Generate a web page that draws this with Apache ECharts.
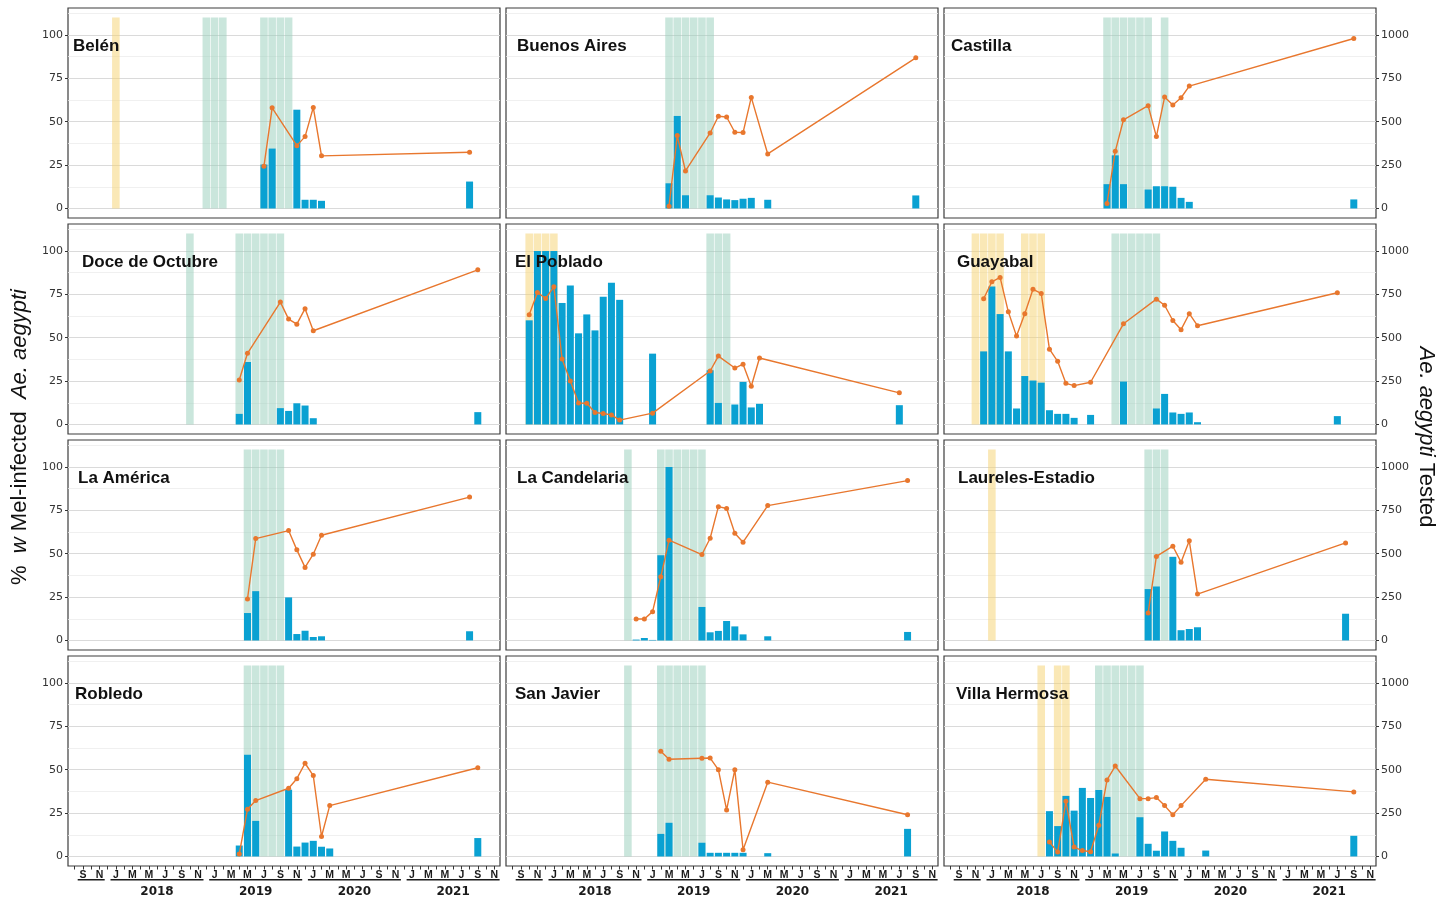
<!DOCTYPE html>
<html>
<head>
<meta charset="utf-8">
<script src="https://cdn.jsdelivr.net/npm/echarts@6/dist/echarts.min.js"></script>
<style>html,body{margin:0;background:#fff}#chart{width:1450px;height:899px}</style>
</head>
<body>
<div id="chart"></div>
<script>
// tick labels
const monthLetters = ['J','F','M','A','M','J','J','A','S','O','N','D'];
const yearLabels = {9: '', 17: '2018', 29: '2019', 41: '2020', 53: '2021'};
const pctTicks = [0, 25, 50, 75, 100];
const pctMinor = [12.5, 37.5, 62.5, 87.5, 112.5];
const testedTicks = [0, 250, 500, 750, 1000];

// Belén
const belenMonths = ['2019-07','2019-08','2019-11','2019-12','2020-01','2020-02','2021-08'];
const belenPct = [25.3, 34.5, 56.9, 5.0, 5.0, 4.4, 15.5];
const belenTested = [243, 580, 362, 414, 582, 303, 324];
const belenYellow = ['2018-01'];
const belenGreen = ['2018-12','2019-01','2019-02','2019-07','2019-08','2019-09','2019-10'];
// Buenos Aires
const baMonths = ['2019-03','2019-04','2019-05','2019-08','2019-09','2019-10','2019-11','2019-12','2020-01','2020-03','2021-09'];
const baPct = [14.5, 53.3, 7.6, 7.6, 6.3, 5.2, 4.8, 5.6, 6.1, 5.0, 7.5];
const baTested = [13, 420, 216, 435, 531, 527, 439, 437, 640, 314, 868];
const baYellow = [];
const baGreen = ['2019-03','2019-04','2019-05','2019-06','2019-07','2019-08'];
// Castilla
const casMonths = ['2019-03','2019-04','2019-05','2019-08','2019-09','2019-10','2019-11','2019-12','2020-01','2021-09'];
const casPct = [14, 30.6, 14, 10.9, 12.8, 12.8, 12.5, 6.1, 3.8, 5.2];
const casTested = [29, 329, 511, 592, 414, 642, 596, 638, 705, 979];
const casYellow = [];
const casGreen = ['2019-03','2019-04','2019-05','2019-06','2019-07','2019-08','2019-10'];
// Doce de Octubre
const doceMonths = ['2019-04','2019-05','2019-09','2019-10','2019-11','2019-12','2020-01','2021-09'];
const docePct = [6.1, 36, 9.4, 7.8, 12.2, 10.9, 3.6, 7.1];
const doceTested = [256, 410, 705, 607, 578, 667, 540, 891];
const doceYellow = [];
const doceGreen = ['2018-10','2019-04','2019-05','2019-06','2019-07','2019-08','2019-09'];
// El Poblado
const pobMonths = ['2017-10','2017-11','2017-12','2018-01','2018-02','2018-03','2018-04','2018-05','2018-06','2018-07','2018-08','2018-09','2019-01','2019-08','2019-09','2019-11','2019-12','2020-01','2020-02','2021-07'];
const pobPct = [60, 100, 100, 100, 70, 80, 52.5, 63.4, 54.2, 73.6, 81.6, 71.8, 40.8, 31.2, 12.4, 11.5, 24.5, 9.8, 11.9, 11.1];
const pobTested = [632, 760, 726, 793, 377, 251, 124, 122, 69, 63, 55, 25, 65, 308, 394, 325, 347, 220, 383, 182];
const pobYellow = ['2017-10','2017-11','2017-12','2018-01'];
const pobGreen = ['2019-08','2019-09','2019-10'];
// Guayabal
const guaMonths = ['2017-12','2018-01','2018-02','2018-03','2018-04','2018-05','2018-06','2018-07','2018-08','2018-09','2018-10','2018-11','2019-01','2019-05','2019-09','2019-10','2019-11','2019-12','2020-01','2020-02','2021-07'];
const guaPct = [42.1, 79.5, 63.6, 42.1, 9.2, 27.9, 25.3, 24.1, 8.2, 6.1, 6.1, 3.8, 5.5, 24.7, 9.2, 17.6, 6.9, 6.1, 6.9, 1.3, 4.8];
const guaTested = [724, 822, 847, 649, 509, 638, 779, 755, 434, 364, 237, 224, 243, 580, 722, 687, 599, 546, 638, 569, 759];
const guaYellow = ['2017-11','2017-12','2018-01','2018-02','2018-05','2018-06','2018-07'];
const guaGreen = ['2019-04','2019-05','2019-06','2019-07','2019-08','2019-09'];
// La América
const ameMonths = ['2019-05','2019-06','2019-10','2019-11','2019-12','2020-01','2020-02','2021-08'];
const amePct = [15.8, 28.4, 24.8, 3.7, 5.6, 2.0, 2.4, 5.3];
const ameTested = [239, 587, 633, 522, 421, 497, 606, 826];
const ameYellow = [];
const ameGreen = ['2019-05','2019-06','2019-07','2019-08','2019-09'];
// La Candelaria
const canMonths = ['2018-11','2018-12','2019-01','2019-02','2019-03','2019-07','2019-08','2019-09','2019-10','2019-11','2019-12','2020-03','2021-08'];
const canPct = [0.5, 1.4, 0.3, 49.1, 100, 19.3, 4.7, 5.5, 11.2, 8.1, 3.5, 2.4, 4.9];
const canTested = [124, 124, 166, 367, 578, 495, 589, 771, 760, 618, 566, 777, 921];
const canYellow = [];
const canGreen = ['2018-10','2019-02','2019-03','2019-04','2019-05','2019-06','2019-07'];
// Laureles-Estadio
const lauMonths = ['2019-08','2019-09','2019-11','2019-12','2020-01','2020-02','2021-08'];
const lauPct = [29.6, 31.1, 48.2, 5.9, 6.6, 7.6, 15.4];
const lauTested = [158, 484, 543, 451, 574, 267, 562];
const lauYellow = ['2018-01'];
const lauGreen = ['2019-08','2019-09','2019-10'];
// Robledo
const robMonths = ['2019-04','2019-05','2019-06','2019-10','2019-11','2019-12','2020-01','2020-02','2020-03','2021-09'];
const robPct = [6.3, 58.6, 20.5, 38.5, 5.7, 8.0, 9.0, 5.6, 4.6, 10.6];
const robTested = [14, 272, 322, 393, 448, 537, 466, 115, 293, 511];
const robYellow = [];
const robGreen = ['2019-05','2019-06','2019-07','2019-08','2019-09'];
// San Javier
const sjMonths = ['2019-02','2019-03','2019-07','2019-08','2019-09','2019-10','2019-11','2019-12','2020-03','2021-08'];
const sjPct = [13.0, 19.4, 7.9, 2.1, 2.1, 2.1, 2.1, 2.1, 1.9, 15.9];
const sjTested = [606, 560, 566, 567, 500, 268, 500, 39, 428, 240];
const sjYellow = [];
const sjGreen = ['2018-10','2019-02','2019-03','2019-04','2019-05','2019-06','2019-07'];
// Villa Hermosa
const vhMonths = ['2018-08','2018-09','2018-10','2018-11','2018-12','2019-01','2019-02','2019-03','2019-04','2019-07','2019-08','2019-09','2019-10','2019-11','2019-12','2020-03','2021-09'];
const vhPct = [26.1, 17.5, 34.9, 26.4, 39.5, 33.7, 38.3, 34.3, 1.7, 22.6, 7.3, 3.3, 14.4, 9.0, 5.0, 3.4, 11.9];
const vhTested = [84, 25, 318, 54, 34, 27, 180, 441, 521, 333, 333, 339, 293, 240, 293, 445, 372];
const vhYellow = ['2018-07','2018-09','2018-10'];
const vhGreen = ['2019-02','2019-03','2019-04','2019-05','2019-06','2019-07'];

const panels = [
    {name: 'Belén', months: belenMonths, pct: belenPct, tested: belenTested, yellow: belenYellow, green: belenGreen},
    {name: 'Buenos Aires', months: baMonths, pct: baPct, tested: baTested, yellow: baYellow, green: baGreen},
    {name: 'Castilla', months: casMonths, pct: casPct, tested: casTested, yellow: casYellow, green: casGreen},
    {name: 'Doce de Octubre', months: doceMonths, pct: docePct, tested: doceTested, yellow: doceYellow, green: doceGreen},
    {name: 'El Poblado', months: pobMonths, pct: pobPct, tested: pobTested, yellow: pobYellow, green: pobGreen},
    {name: 'Guayabal', months: guaMonths, pct: guaPct, tested: guaTested, yellow: guaYellow, green: guaGreen},
    {name: 'La América', months: ameMonths, pct: amePct, tested: ameTested, yellow: ameYellow, green: ameGreen},
    {name: 'La Candelaria', months: canMonths, pct: canPct, tested: canTested, yellow: canYellow, green: canGreen},
    {name: 'Laureles-Estadio', months: lauMonths, pct: lauPct, tested: lauTested, yellow: lauYellow, green: lauGreen},
    {name: 'Robledo', months: robMonths, pct: robPct, tested: robTested, yellow: robYellow, green: robGreen},
    {name: 'San Javier', months: sjMonths, pct: sjPct, tested: sjTested, yellow: sjYellow, green: sjGreen},
    {name: 'Villa Hermosa', months: vhMonths, pct: vhPct, tested: vhTested, yellow: vhYellow, green: vhGreen}
];
// label offset inside each panel (px from panel left)
const labelDx = [5, 11, 7, 14, 9, 13, 10, 11, 14, 7, 9, 12];

// month index, Jan 2017 = 0
let mi = s => (+s.slice(0, 4) - 2017) * 12 + (+s.slice(5, 7) - 1);
let range = (a, b, s) => { let r = []; for (let v = a; v <= b; v += s) r.push(v); return r; };

const xMin = 6.18, xMax = 58.7;
const fontTick = '"DejaVu Sans"';

let shade = color => (params, api) => {
    let p0 = api.coord([api.value(0) - 0.46, api.value(1)]);
    let p1 = api.coord([api.value(0) + 0.46, 0]);
    return {type: 'rect', shape: {x: p0[0], y: p0[1], width: p1[0] - p0[0], height: p1[1] - p0[1]}, style: {fill: color}};
};

let grid = [], xAxis = [], yAxis = [], series = [], graphic = [];
panels.forEach((p, i) => {
    let r = Math.floor(i / 3), c = i % 3;
    let left = 68 + c * 438, top = 8 + r * 216;
    let bottomRow = r === 3;
    grid.push({left: left, top: top, width: 432, height: 210, show: true, backgroundColor: '#fff',
        borderColor: '#3c3c3c', borderWidth: 1.2, containLabel: false, outerBoundsMode: 'none'});

    xAxis.push({type: 'value', gridIndex: i, min: xMin, max: xMax, position: 'bottom',
        axisLine: {show: false, onZero: false}, splitLine: {show: false},
        axisTick: {show: bottomRow, customValues: range(7, 58, 1), length: 3.5, lineStyle: {color: '#333'}},
        axisLabel: {show: bottomRow, customValues: range(8, 58, 2), margin: 4,
            formatter: v => monthLetters[v % 12], fontFamily: '"Liberation Sans"', fontWeight: 'bold', fontSize: 10.5, color: '#1a1a1a'}});
    xAxis.push({type: 'value', gridIndex: i, min: xMin, max: xMax, position: 'bottom', show: bottomRow,
        axisLine: {show: false, onZero: false}, splitLine: {show: false}, axisTick: {show: false},
        axisLabel: {show: bottomRow, customValues: [9, 17, 29, 41, 53], margin: 13,
            formatter: v => yearLabels[v] ? '{u| }\n{y|' + yearLabels[v] + '}' : '{u0| }',
            rich: {
                u: {width: 93, height: 1.5, backgroundColor: '#1a1a1a'},
                u0: {width: 27, height: 1.5, backgroundColor: '#1a1a1a'},
                y: {fontFamily: fontTick, fontWeight: 'bold', fontSize: 12, lineHeight: 22, color: '#1a1a1a'}
            }}});

    yAxis.push({type: 'value', gridIndex: i, min: -5.5, max: 115.5, position: 'left',
        axisLine: {show: false, onZero: false},
        axisTick: {show: c === 0, customValues: pctTicks, length: 3, lineStyle: {color: '#333'}},
        axisLabel: {show: c === 0, customValues: pctTicks, margin: 5, fontFamily: fontTick, fontSize: 11, color: '#333'},
        splitLine: {show: true, lineStyle: {color: '#dadada', width: 1.1}}});
    yAxis.push({type: 'value', gridIndex: i, min: -55, max: 1155, position: 'right',
        axisLine: {show: false, onZero: false}, splitLine: {show: false},
        axisTick: {show: c === 2, customValues: testedTicks, length: 3, lineStyle: {color: '#333'}},
        axisLabel: {show: c === 2, customValues: testedTicks, margin: 5, formatter: v => String(v),
            fontFamily: fontTick, fontSize: 11, color: '#333'}});
    yAxis.push({type: 'value', gridIndex: i, min: -5.5, max: 115.5, position: 'left',
        axisLine: {show: false, onZero: false}, axisLabel: {show: false},
        axisTick: {show: false, customValues: pctMinor},
        splitLine: {show: true, lineStyle: {color: '#ececec', width: 0.8}}});

    series.push({type: 'custom', xAxisIndex: 2 * i, yAxisIndex: 3 * i, z: 1, silent: true,
        renderItem: shade('rgba(246, 210, 110, 0.5)'), data: p.yellow.map(m => [mi(m), 110])});
    series.push({type: 'custom', xAxisIndex: 2 * i, yAxisIndex: 3 * i, z: 1, silent: true,
        renderItem: shade('rgba(150, 205, 185, 0.5)'), data: p.green.map(m => [mi(m), 110])});
    series.push({type: 'bar', xAxisIndex: 2 * i, yAxisIndex: 3 * i, z: 2, barWidth: 7,
        itemStyle: {color: '#0aa1d2'}, data: p.months.map((m, k) => [mi(m), p.pct[k]])});
    series.push({type: 'line', xAxisIndex: 2 * i, yAxisIndex: 3 * i + 1, z: 3,
        symbol: 'circle', symbolSize: 5, itemStyle: {color: '#e8772e'}, lineStyle: {color: '#e8772e', width: 1.4},
        data: p.months.map((m, k) => [mi(m), p.tested[k]])});

    graphic.push({type: 'text', x: left + labelDx[i], y: top + 38, z: 10,
        style: {text: p.name, font: 'bold 17px "Liberation Sans"', fill: '#111', align: 'left', verticalAlign: 'middle'}});
});

graphic.push({type: 'text', x: 20, y: 437, rotation: Math.PI / 2, z: 10,
    style: {text: '{n|%  }{i|w}{n| Mel-infected  }{i|Ae. aegypti}', align: 'center', verticalAlign: 'middle',
        rich: {n: {font: '22px "Liberation Sans"', fill: '#111'}, i: {font: 'italic 22px "Liberation Sans"', fill: '#111'}}}});
graphic.push({type: 'text', x: 1426, y: 437, rotation: -Math.PI / 2, z: 10,
    style: {text: '{i|Ae. aegypti}{n| Tested}', align: 'center', verticalAlign: 'middle',
        rich: {n: {font: '22px "Liberation Sans"', fill: '#111'}, i: {font: 'italic 22px "Liberation Sans"', fill: '#111'}}}});

let chart = echarts.init(document.getElementById('chart'));
chart.setOption({animation: false, backgroundColor: '#fff', grid, xAxis, yAxis, series, graphic});
</script>
</body>
</html>
